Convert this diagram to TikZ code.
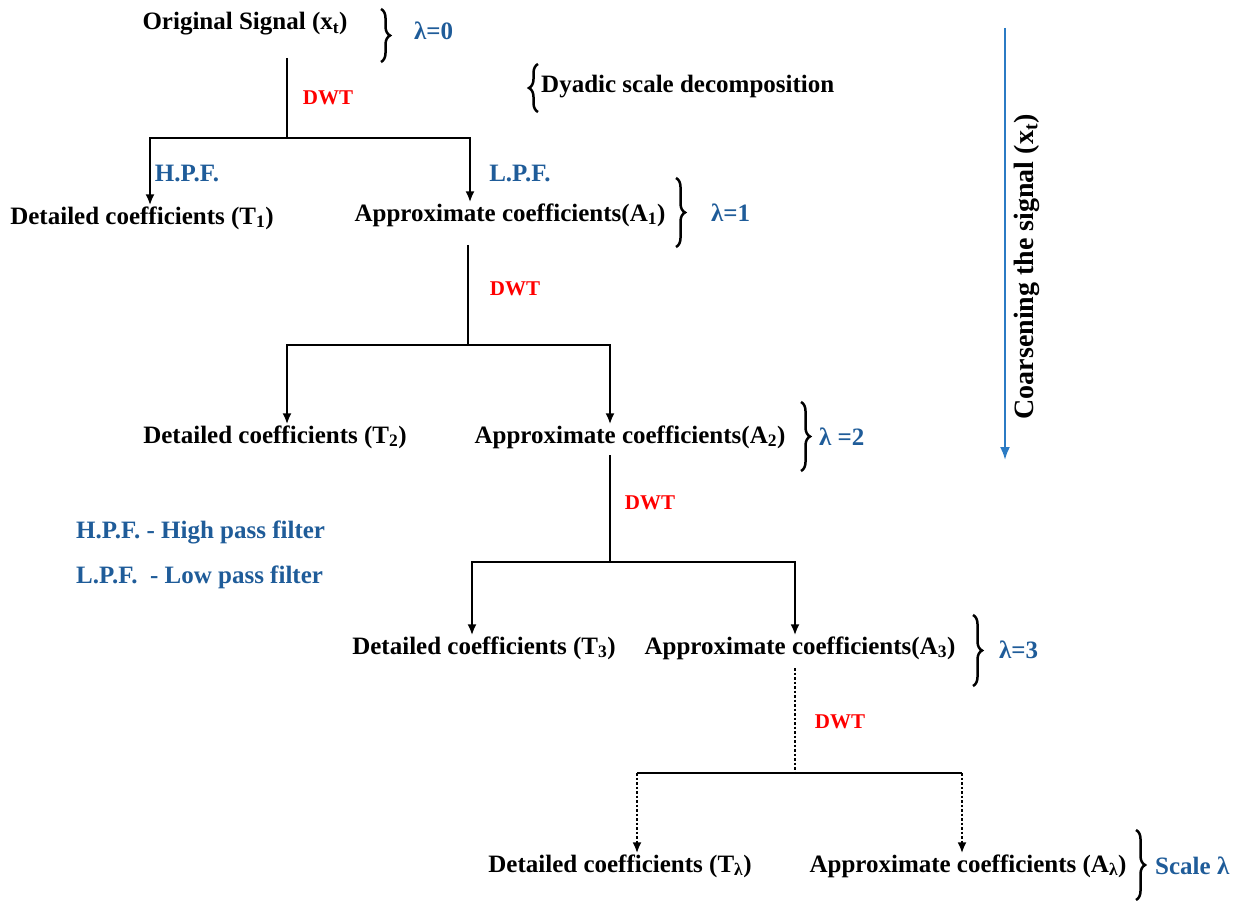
\documentclass[tikz,border=0pt]{standalone}
\usepackage{fontspec}
\setmainfont{Liberation Serif}
\usetikzlibrary{arrows.meta,decorations.pathreplacing}
\definecolor{FilterBlue}{HTML}{1F5C99}
\definecolor{ArrowBlue}{HTML}{2B7BC4}
\definecolor{DwtRed}{HTML}{FF0000}
\tikzset{
    coef/.style={anchor=center, inner sep=1pt, font=\fontsize{25}{29}\selectfont\bfseries},
    filterlabel/.style={coef, text=FilterBlue},
    scalelabel/.style={coef, anchor=west, inner sep=0, text=FilterBlue},
    dwtlabel/.style={coef, text=DwtRed, font=\fontsize{21}{25}\selectfont\bfseries},
    trunk/.style={line width=2.8pt},
    branch/.style={trunk, -{Latex[length=11pt,width=9pt]}},
    dotstyle/.style={dash pattern=on 2.5pt off 2pt},
    dotbranch/.style={branch, dotstyle},
    scalebrace/.style={line width=2.5pt, decorate, decoration={brace, amplitude=9pt}},
    coarse/.style={ArrowBlue, line width=2.2pt, -{Latex[length=13pt,width=10pt]}},
}

\begin{document}
\begin{tikzpicture}[x=1pt, y=-1pt]
        \useasboundingbox (0,0) rectangle (1236,901);
        % Coefficient nodes
        \node[coef] (orig) at (245,24) {Original Signal (x\textsubscript{t})};
        \node[coef] (det1) at (142,218) {Detailed coefficients (T\textsubscript{1})};
        \node[coef] (app1) at (510,215) {Approximate coefficients(A\textsubscript{1})};
        \node[coef] (det2) at (275,437) {Detailed coefficients (T\textsubscript{2})};
        \node[coef] (app2) at (630,437) {Approximate coefficients(A\textsubscript{2})};
        \node[coef] (det3) at (484,648) {Detailed coefficients (T\textsubscript{3})};
        \node[coef] (app3) at (800,648) {Approximate coefficients(A\textsubscript{3})};
        \node[coef] (detL) at (620,866) {Detailed coefficients (T\textsubscript{λ})};
        \node[coef] (appL) at (968,866) {Approximate coefficients (A\textsubscript{λ})};
        %
        % Scale braces
        \draw[scalebrace] (381,9) -- (381,62);
        \node[scalelabel] (lam0) at (414,31) {λ=0};
        \draw[scalebrace] (538,112) -- (538,64);
        \node[coef, anchor=west, inner sep=0] (dyadic) at (541,87) {Dyadic scale decomposition};
        \draw[scalebrace] (676,178) -- (676,247);
        \node[scalelabel] (lam1) at (711,213) {λ=1};
        \draw[scalebrace] (801,402) -- (801,471);
        \node[scalelabel] (lam2) at (819,437) {λ =2};
        \draw[scalebrace] (973,615) -- (973,686);
        \node[scalelabel] (lam3) at (999,650) {λ=3};
        \draw[scalebrace] (1136,830) -- (1136,900);
        \node[scalelabel] (lamL) at (1155,866) {Scale λ};
        %
        % First decomposition
        \coordinate (t0) at (287,58);
        \coordinate (j0) at (287,138);
        \coordinate (l0) at (150,138);
        \coordinate (r0) at (470,138);
        \draw[trunk] (t0) -- (j0);
        \draw[branch] (j0) -| (l0 |- det1.north);
        \draw[branch] (j0) -| (r0 |- app1.north);
        \node[dwtlabel] (dwt0) at (328,98) {DWT};
        \node[filterlabel] (hpf) at (187,173) {H.P.F.};
        \node[filterlabel] (lpf) at (520,173) {L.P.F.};
        %
        % Second decomposition
        \coordinate (t1) at (468,245);
        \coordinate (j1) at (468,345);
        \coordinate (l1) at (287,345);
        \coordinate (r1) at (610,345);
        \draw[trunk] (t1) -- (j1);
        \draw[branch] (j1) -| (l1 |- det2.north);
        \draw[branch] (j1) -| (r1 |- app2.north);
        \node[dwtlabel] (dwt1) at (515,289) {DWT};
        %
        % Third decomposition
        \coordinate (t2) at (610,455);
        \coordinate (j2) at (610,562);
        \coordinate (l2) at (472,562);
        \coordinate (r2) at (795,562);
        \draw[trunk] (t2) -- (j2);
        \draw[branch] (j2) -| (l2 |- det3.north);
        \draw[branch] (j2) -| (r2 |- app3.north);
        \node[dwtlabel] (dwt2) at (650,503) {DWT};
        %
        % Last decomposition
        \coordinate (t3) at (795,668);
        \coordinate (j3) at (795,773);
        \coordinate (l3) at (637,773);
        \coordinate (r3) at (962,773);
        \draw[trunk, dotstyle] (t3) -- (j3);
        \draw[trunk] (l3) -- (r3);
        \draw[dotbranch] (l3) -- (l3 |- detL.north);
        \draw[dotbranch] (r3) -- (r3 |- appL.north);
        \node[dwtlabel] (dwt3) at (840,722) {DWT};
        %
        % Legend
        \node[filterlabel, anchor=west, inner sep=0] (hpfkey) at (76,532) {H.P.F. - High pass filter};
        \node[filterlabel, anchor=west, inner sep=0] (lpfkey) at (76,577) {L.P.F.~ - Low pass filter};
        %
        % Coarsening arrow
        \coordinate (cs0) at (1005,28);
        \coordinate (cs1) at (1005,460);
        \draw[coarse] (cs0) -- (cs1);
        \node[coef, rotate=90, font=\fontsize{28}{32}\selectfont\bfseries] (coarsen) at (1027,267) {Coarsening the signal (x\textsubscript{t})};
\end{tikzpicture}
\end{document}
